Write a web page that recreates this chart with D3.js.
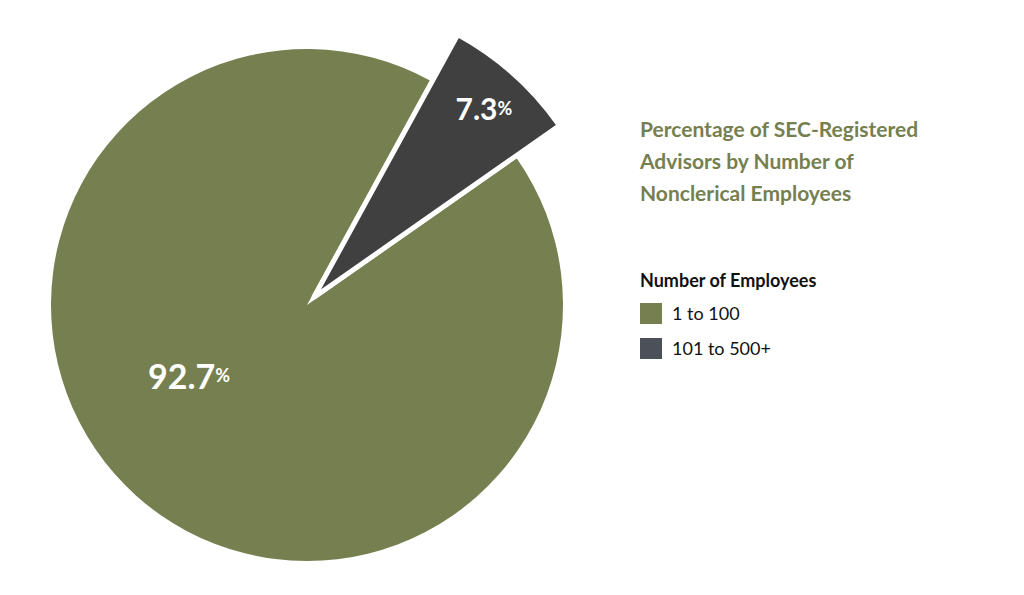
<!DOCTYPE html>
<html><head><meta charset="utf-8">
<script src="https://cdn.jsdelivr.net/npm/d3@7"></script>
<style>body{margin:0;background:#fff}</style></head>
<body><svg id="c" width="1024" height="595"></svg>
<script>
const categories = ["1 to 100", "101 to 500+"];
const values = [92.7, 7.3];
const labels = ["92.7", "7.3"];
const colors = ["#767f4f", "#404040"];
const legendColors = ["#767f4f", "#4b5059"];

const svg = d3.select("#c");
const cx = 307, cy = 305;
const deg = Math.PI / 180;
const pie = d3.pie().sort(null).startAngle(55 * deg).endAngle(415 * deg);
const arcs = pie(values);
const g = svg.append("g").attr("transform", `translate(${cx},${cy})`);

arcs.forEach((a, i) => {
  const r = i === 0 ? 256 : 300;
  const off = i === 0 ? 0 : 10;
  const mid = (a.startAngle + a.endAngle) / 2;
  const dx = Math.sin(mid) * off, dy = -Math.cos(mid) * off;
  const arc = d3.arc().innerRadius(0).outerRadius(r);
  const gg = g.append("g").attr("transform", `translate(${dx},${dy})`);
  gg.append("path").attr("d", arc(a)).attr("fill", colors[i])
    .attr("stroke", "#fff").attr("stroke-width", i === 0 ? 0 : 5).attr("stroke-linejoin", "miter");
  const lr = i === 0 ? 150 : 255;
  const lp = i === 0 ? [-118, 70] : [Math.sin(mid) * lr, -Math.cos(mid) * lr];
  const t = gg.append("text").attr("x", lp[0]).attr("y", lp[1]).attr("text-anchor", "middle")
    .attr("dominant-baseline", "central").attr("fill", "#fff")
    .attr("font-family", "Lato, sans-serif").attr("font-weight", "bold");
  t.append("tspan").attr("font-size", i === 0 ? 34 : 30).text(labels[i]);
  t.append("tspan").attr("font-size", 18).text("%");
});

const title = ["Percentage of SEC-Registered", "Advisors by Number of", "Nonclerical Employees"];
svg.append("g").selectAll("text").data(title).join("text")
  .attr("x", 640).attr("y", (d, i) => 137 + i * 32).text(d => d)
  .attr("fill", "#767f4f").attr("font-family", "Lato, sans-serif").attr("font-weight", "bold").attr("font-size", 21);

svg.append("text").attr("x", 640).attr("y", 287).text("Number of Employees")
  .attr("fill", "#111").attr("font-family", "Lato, sans-serif").attr("font-weight", "bold").attr("font-size", 18);
const lg = svg.append("g").selectAll("g").data(categories).join("g")
  .attr("transform", (d, i) => `translate(640,${303 + i * 35})`);
lg.append("rect").attr("width", 22).attr("height", 21).attr("fill", (d, i) => legendColors[i]);
lg.append("text").attr("x", 32).attr("y", 17).text(d => d)
  .attr("fill", "#111").attr("font-family", "Lato, sans-serif").attr("font-size", 18);
</script></body></html>
